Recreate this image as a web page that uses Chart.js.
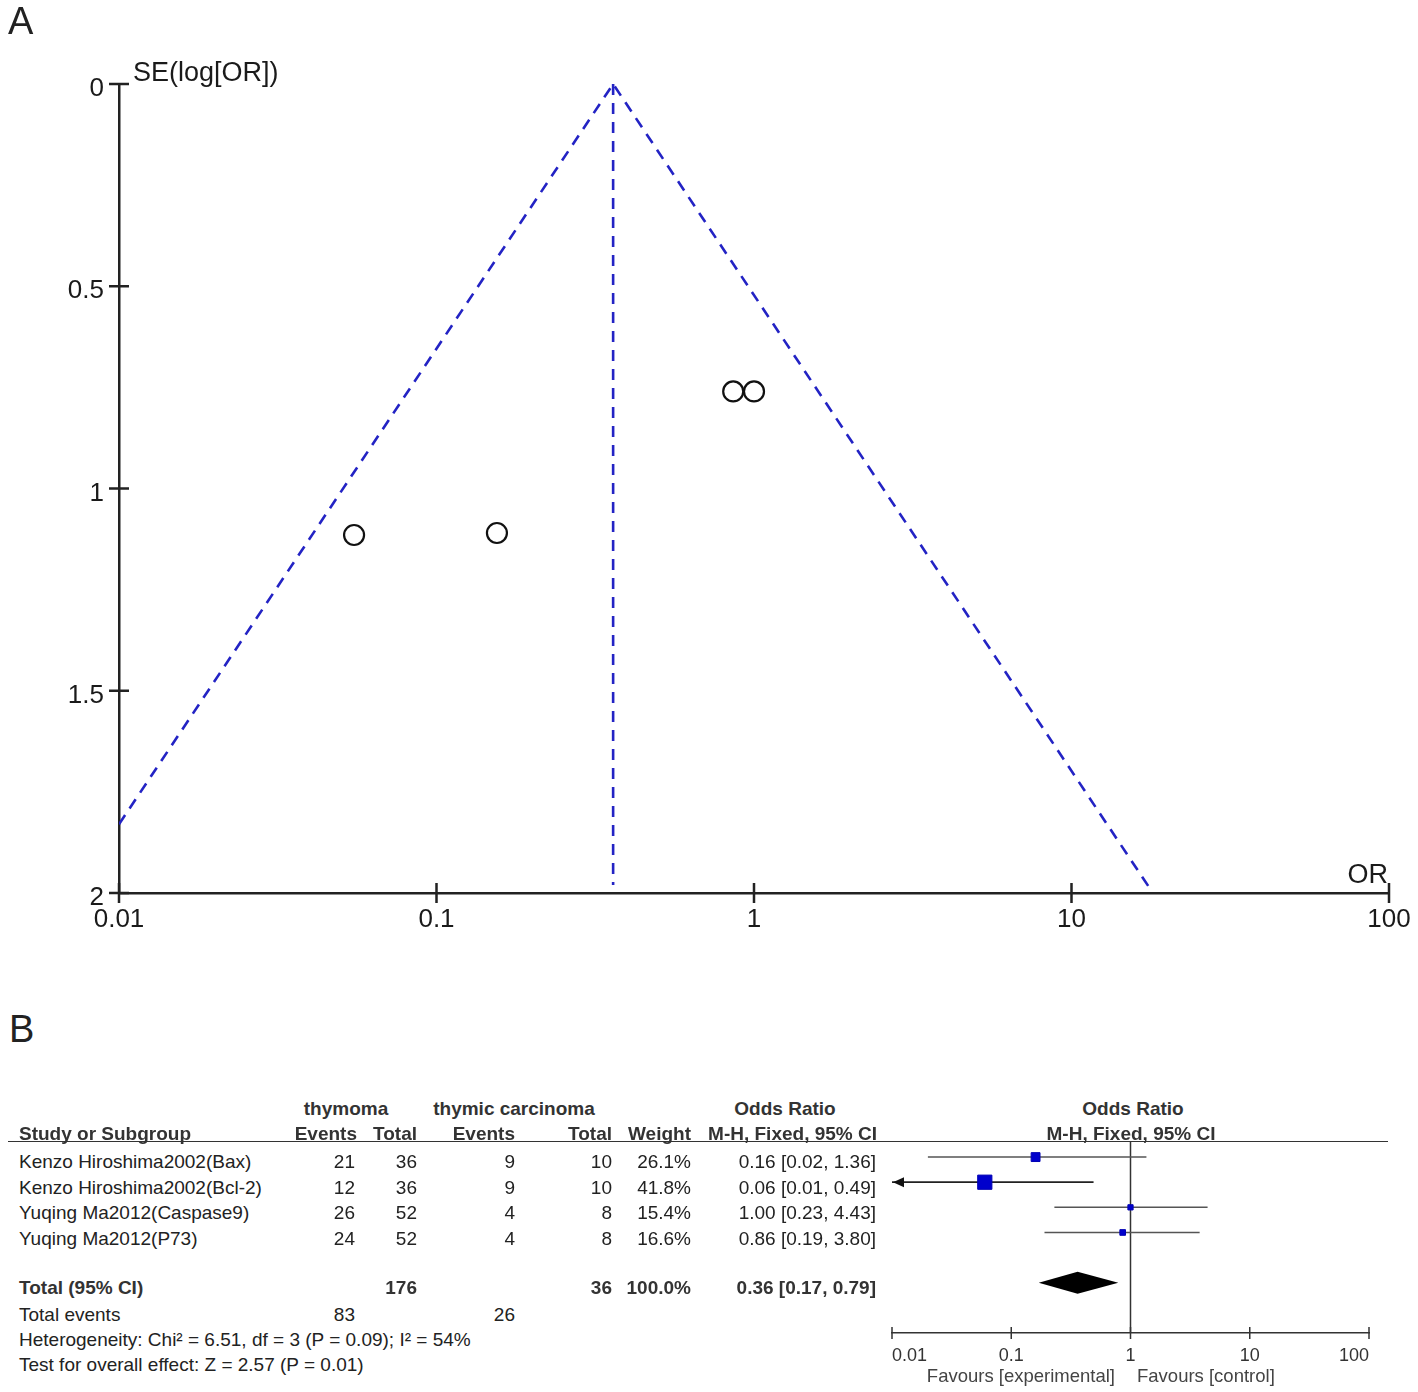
<!DOCTYPE html>
<html>
<head>
<meta charset="utf-8">
<script src="https://cdn.jsdelivr.net/npm/chart.js@4.4.0/dist/chart.umd.min.js"></script>
<style>
body { margin: 0; background: #fff; }
#page { position: relative; width: 1418px; height: 1392px; overflow: hidden;
        font-family: "Liberation Sans", Arial, sans-serif; color: #222; }
#page canvas { position: absolute; }
.t { position: absolute; white-space: nowrap; }
.b { font-weight: bold; color: #333; }
#rule { position: absolute; left: 8px; top: 1141px; width: 1380px; border-top: 1.6px solid #333; }
</style>
</head>
<body>
<div id="page">
  <canvas id="funnel" width="1418" height="960" style="left:0;top:0"></canvas>
  <canvas id="forest" width="540" height="262" style="left:870px;top:1130px"></canvas>
  <div id="rule"></div>
</div>
<script>
// ---- panel A: funnel plot ----
const funnelOR = [0.155, 0.055, 1.0, 0.86];
const funnelSE = [1.11, 1.115, 0.76, 0.76];
const pooledOR = 0.36;
const pooledLineSE = [0, 1.98];
const limitOR = [0.01, 0.36, 17.7];
const limitSE = [1.83, 0, 1.99];
const orTicks = [0.01, 0.1, 1, 10, 100];
const seTicks = [0, 0.5, 1, 1.5, 2];

// ---- panel B: forest plot ----
const studies = ['Kenzo Hiroshima2002(Bax)', 'Kenzo Hiroshima2002(Bcl-2)', 'Yuqing Ma2012(Caspase9)', 'Yuqing Ma2012(P73)'];
const thymomaEvents = [21, 12, 26, 24];
const thymomaTotal = [36, 36, 52, 52];
const carcinomaEvents = [9, 9, 4, 4];
const carcinomaTotal = [10, 10, 8, 8];
const weights = [26.1, 41.8, 15.4, 16.6];
const oddsRatio = [0.16, 0.06, 1.00, 0.86];
const ciLow = [0.02, 0.01, 0.23, 0.19];
const ciHigh = [1.36, 0.49, 4.43, 3.80];
const totalOR = 0.36, totalLow = 0.17, totalHigh = 0.79;
const totalWeight = 100.0;
const totalRow = 5;

const FONT = '"Liberation Sans", Arial, sans-serif';
const page = document.getElementById('page');

function put(text, x, y, align, size, cls, color) {
  const d = document.createElement('div');
  d.className = 't' + (cls ? ' ' + cls : '');
  d.textContent = text;
  const lh = Math.round(size * 1.16);
  d.style.fontSize = size + 'px';
  d.style.lineHeight = lh + 'px';
  d.style.top = (y - 0.568 * size) + 'px';
  if (color) d.style.color = color;
  if (align === 'right') d.style.right = (1418 - x) + 'px';
  else if (align === 'center') { d.style.left = x + 'px'; d.style.transform = 'translateX(-50%)'; }
  else d.style.left = x + 'px';
  page.appendChild(d);
}

// ticks that cross the axis line on both sides
const crossTicks = {
  id: 'crossTicks',
  afterDraw(chart, args, opts) {
    const ctx = chart.ctx, x = chart.scales.x, y = chart.scales.y, a = chart.chartArea;
    ctx.save();
    ctx.strokeStyle = opts.color;
    ctx.lineWidth = opts.width;
    ctx.beginPath();
    orTicks.forEach(v => {
      const px = x.getPixelForValue(v);
      ctx.moveTo(px, a.bottom - opts.len);
      ctx.lineTo(px, a.bottom + opts.len);
    });
    if (opts.yTicks) {
      seTicks.forEach(v => {
        const py = y.getPixelForValue(v);
        ctx.moveTo(a.left - opts.len, py);
        ctx.lineTo(a.left + opts.len, py);
      });
    }
    ctx.stroke();
    ctx.restore();
  }
};

new Chart(document.getElementById('funnel'), {
  type: 'scatter',
  data: {
    datasets: [{
      data: funnelOR.map((v, i) => ({ x: v, y: funnelSE[i] })),
      pointRadius: 10,
      borderWidth: 2.2,
      borderColor: '#111',
      backgroundColor: 'rgba(0,0,0,0)'
    }, {
      data: limitOR.map((v, i) => ({ x: v, y: limitSE[i] })),
      showLine: true,
      borderColor: '#2323c4',
      borderWidth: 2.6,
      borderDash: [11, 8],
      pointRadius: 0
    }, {
      data: pooledLineSE.map(s => ({ x: pooledOR, y: s })),
      showLine: true,
      borderColor: '#2323c4',
      borderWidth: 2.6,
      borderDash: [11, 8],
      pointRadius: 0
    }]
  },
  options: {
    responsive: false,
    animation: false,
    layout: { padding: { left: 0, right: 29, top: 84, bottom: 0 } },
    plugins: {
      legend: { display: false },
      tooltip: { enabled: false },
      crossTicks: { color: '#222', width: 2.5, len: 10, yTicks: true }
    },
    scales: {
      x: {
        type: 'logarithmic', min: 0.01, max: 100,
        afterBuildTicks: s => { s.ticks = orTicks.map(v => ({ value: v })); },
        afterFit: s => { s.height = 67; },
        grid: { display: false, drawTicks: false, tickLength: 0 },
        border: { display: true, color: '#222', width: 2.5 },
        ticks: { padding: 6, color: '#1a1a1a', maxRotation: 0,
                 font: { family: FONT, size: 26, lineHeight: 1.6 },
                 callback: v => String(v) }
      },
      y: {
        type: 'linear', reverse: true, min: 0, max: 2,
        afterBuildTicks: s => { s.ticks = seTicks.map(v => ({ value: v })); },
        afterFit: s => { s.width = 119; },
        grid: { display: false, drawTicks: false, tickLength: 0 },
        border: { display: true, color: '#222', width: 2.5 },
        ticks: { padding: 15, labelOffset: 5, color: '#1a1a1a', font: { family: FONT, size: 26 },
                 callback: v => String(v) }
      }
    }
  },
  plugins: [crossTicks]
});

// CI lines, arrow, pooled diamond and line of no effect
const forestMarks = {
  id: 'forestMarks',
  beforeDatasetsDraw(chart) {
    const ctx = chart.ctx, a = chart.chartArea, x = chart.scales.x, y = chart.scales.y;
    ctx.save();
    ctx.strokeStyle = '#333';
    ctx.lineWidth = 1.5;
    const x1 = x.getPixelForValue(1);
    ctx.beginPath();
    ctx.moveTo(x1, a.top);
    ctx.lineTo(x1, a.bottom);
    ctx.stroke();

    oddsRatio.forEach((v, i) => {
      const py = y.getPixelForValue(i);
      const clipped = ciLow[i] <= x.min;
      const xl = x.getPixelForValue(Math.max(ciLow[i], x.min));
      const xr = x.getPixelForValue(Math.min(ciHigh[i], x.max));
      ctx.strokeStyle = clipped ? '#222' : '#555';
      ctx.lineWidth = clipped ? 1.8 : 1.5;
      ctx.beginPath();
      ctx.moveTo(xl, py);
      ctx.lineTo(xr, py);
      ctx.stroke();
      if (clipped) {
        ctx.fillStyle = '#111';
        ctx.beginPath();
        ctx.moveTo(xl + 1, py);
        ctx.lineTo(xl + 12, py - 5);
        ctx.lineTo(xl + 12, py + 5);
        ctx.closePath();
        ctx.fill();
      }
    });

    const py = y.getPixelForValue(totalRow);
    ctx.fillStyle = '#000';
    ctx.beginPath();
    ctx.moveTo(x.getPixelForValue(totalLow), py);
    ctx.lineTo(x.getPixelForValue(totalOR), py - 11);
    ctx.lineTo(x.getPixelForValue(totalHigh), py);
    ctx.lineTo(x.getPixelForValue(totalOR), py + 11);
    ctx.closePath();
    ctx.fill();
    ctx.restore();
  }
};

new Chart(document.getElementById('forest'), {
  type: 'scatter',
  data: {
    datasets: [{
      data: oddsRatio.map((v, i) => ({ x: v, y: i })),
      pointStyle: 'rect',
      pointRadius: weights.map(w => w * 0.34 / Math.SQRT2),
      backgroundColor: '#0000cc',
      borderColor: '#0000b4',
      borderWidth: 1
    }]
  },
  options: {
    responsive: false,
    animation: false,
    layout: { padding: { left: 22, right: 41, top: 12, bottom: 0 } },
    plugins: {
      legend: { display: false },
      tooltip: { enabled: false },
      crossTicks: { color: '#333', width: 1.5, len: 6, yTicks: false }
    },
    scales: {
      x: {
        type: 'logarithmic', min: 0.01, max: 100,
        afterBuildTicks: s => { s.ticks = orTicks.map(v => ({ value: v })); },
        afterFit: s => { s.height = 59; },
        grid: { display: false, drawTicks: false, tickLength: 0 },
        border: { display: true, color: '#333', width: 1.5 },
        ticks: { align: 'inner', padding: 12, color: '#333', maxRotation: 0, font: { family: FONT, size: 18 },
                 callback: v => String(v) }
      },
      y: { type: 'linear', display: false, reverse: true, min: -0.6, max: 7 }
    }
  },
  plugins: [forestMarks, crossTicks]
});

// ---- text ----
put('A', 8, 21, 'left', 38);
put('B', 9, 1029, 'left', 38);
put('SE(log[OR])', 133, 72, 'left', 27, null, '#1a1a1a');
put('OR', 1388, 874, 'right', 27, null, '#1a1a1a');

put('thymoma', 346, 1109, 'center', 19, 'b');
put('thymic carcinoma', 514, 1109, 'center', 19, 'b');
put('Odds Ratio', 785, 1109, 'center', 19, 'b');
put('Odds Ratio', 1133, 1109, 'center', 19, 'b');
put('Study or Subgroup', 19, 1134, 'left', 19, 'b');
put('Events', 357, 1134, 'right', 19, 'b');
put('Total', 417, 1134, 'right', 19, 'b');
put('Events', 515, 1134, 'right', 19, 'b');
put('Total', 612, 1134, 'right', 19, 'b');
put('Weight', 691, 1134, 'right', 19, 'b');
put('M-H, Fixed, 95% CI', 877, 1134, 'right', 19, 'b');
put('M-H, Fixed, 95% CI', 1131, 1134, 'center', 19, 'b');

const rowY = [1162, 1188, 1213, 1239];
studies.forEach((s, i) => {
  const y = rowY[i];
  put(s, 19, y, 'left', 19);
  put(String(thymomaEvents[i]), 355, y, 'right', 19);
  put(String(thymomaTotal[i]), 417, y, 'right', 19);
  put(String(carcinomaEvents[i]), 515, y, 'right', 19);
  put(String(carcinomaTotal[i]), 612, y, 'right', 19);
  put(weights[i].toFixed(1) + '%', 691, y, 'right', 19);
  put(oddsRatio[i].toFixed(2) + ' [' + ciLow[i].toFixed(2) + ', ' + ciHigh[i].toFixed(2) + ']', 876, y, 'right', 19);
});

const sum = arr => arr.reduce((p, c) => p + c, 0);
put('Total (95% CI)', 19, 1288, 'left', 19, 'b');
put(String(sum(thymomaTotal)), 417, 1288, 'right', 19, 'b');
put(String(sum(carcinomaTotal)), 612, 1288, 'right', 19, 'b');
put(totalWeight.toFixed(1) + '%', 691, 1288, 'right', 19, 'b');
put(totalOR.toFixed(2) + ' [' + totalLow.toFixed(2) + ', ' + totalHigh.toFixed(2) + ']', 876, 1288, 'right', 19, 'b');
put('Total events', 19, 1315, 'left', 19);
put(String(sum(thymomaEvents)), 355, 1315, 'right', 19);
put(String(sum(carcinomaEvents)), 515, 1315, 'right', 19);
put('Heterogeneity: Chi\u00b2 = 6.51, df = 3 (P = 0.09); I\u00b2 = 54%', 19, 1340, 'left', 19);
put('Test for overall effect: Z = 2.57 (P = 0.01)', 19, 1365, 'left', 19);

put('Favours [experimental]', 1115, 1376, 'right', 18.5, null, '#444');
put('Favours [control]', 1137, 1376, 'left', 18.5, null, '#444');
</script>
</body>
</html>
